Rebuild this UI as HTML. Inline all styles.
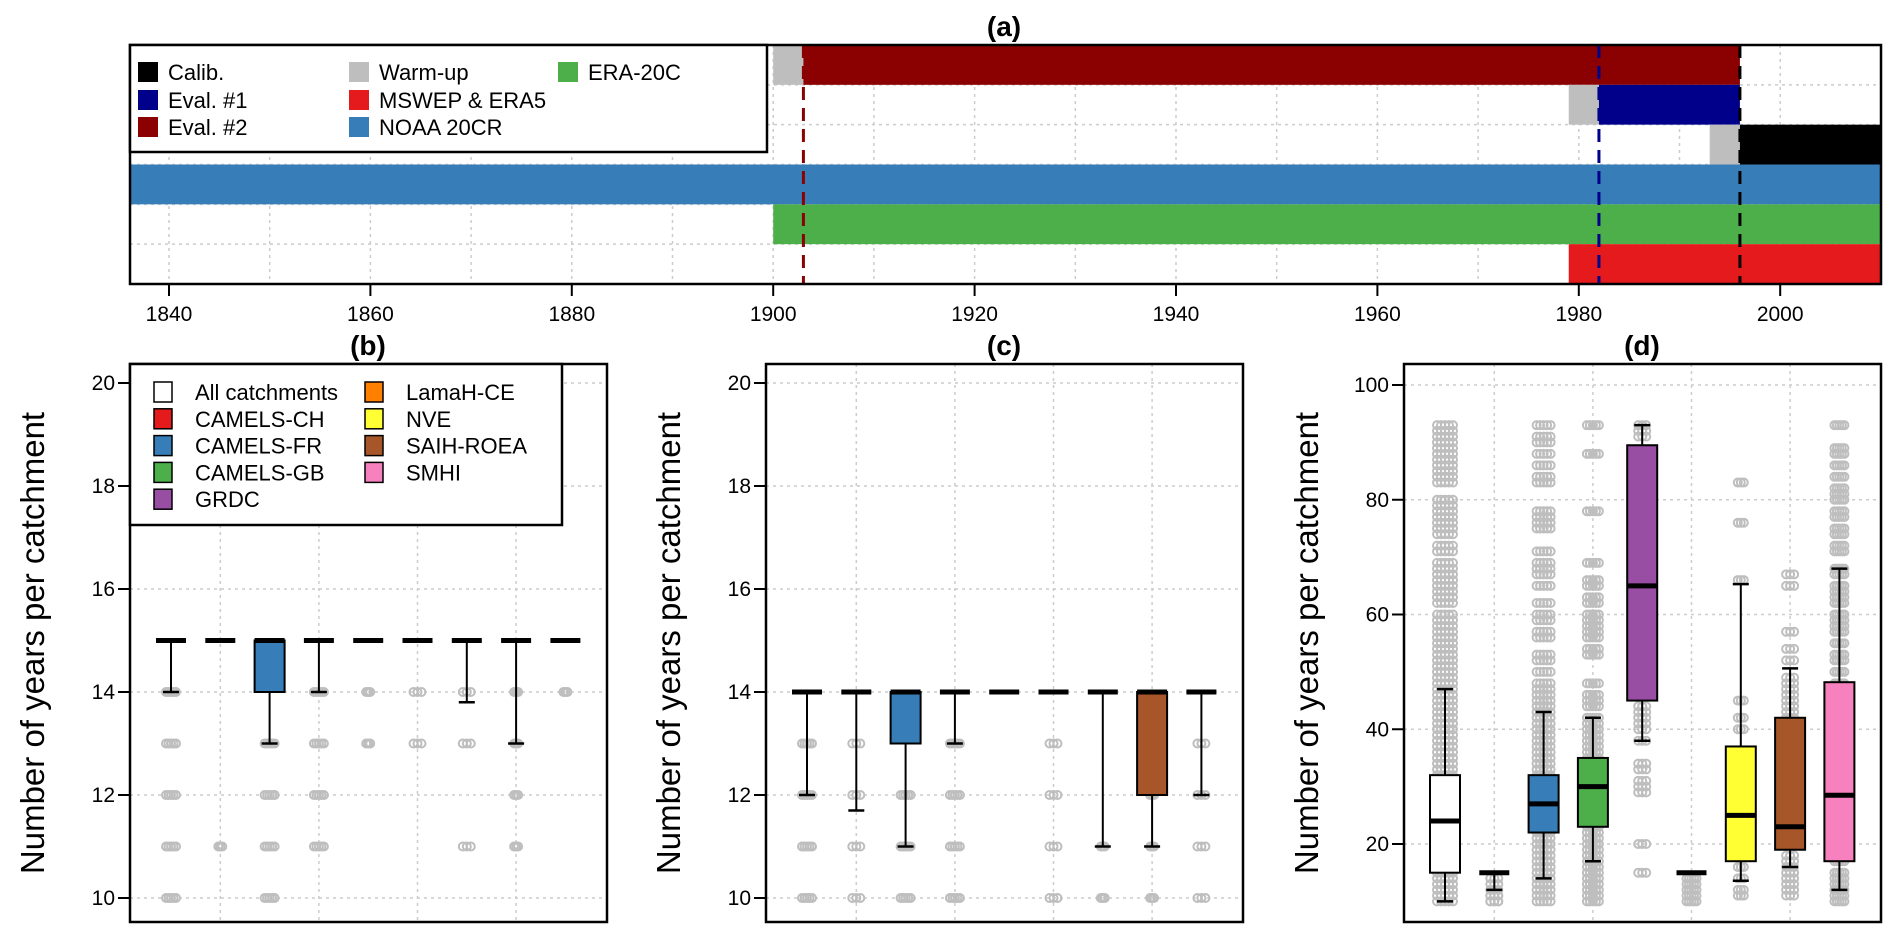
<!DOCTYPE html>
<html><head><meta charset="utf-8"><style>
html,body{margin:0;padding:0;background:#fff}
svg{display:block;font-family:"Liberation Sans",Arial,sans-serif}
</style></head><body>
<svg id="fig" width="1892" height="938" viewBox="0 0 1892 938" xmlns="http://www.w3.org/2000/svg"></svg>
<script>
// ---------- Panel (a) data ----------
const aRowsStart = [[1900,1903],[1979,1982],[1993,1996],[1836,1836],[1900,1900],[1979,1979]];
const aBarNames = ['eval2','eval1','calib','noaa-20cr','era-20c','mswep-era5'];
const aBarStart = [1903,1982,1996,1836,1900,1979];
const aBarEnd = [1996,1996,2010,2010,2010,2010];
const aWarmStart = [1900,1979,1993,null,null,null];
const aBarColors = ['#8B0000','#00008B','#000000','#377EB8','#4DAF4A','#E41A1C'];
const aVLines = [1903,1982,1996];
const aVLineColors = ['#8B0000','#00008B','#000000'];
const aTicks = [1840,1860,1880,1900,1920,1940,1960,1980,2000];
// ---------- Box panels ----------
const cats = ['All catchments','CAMELS-CH','CAMELS-FR','CAMELS-GB','GRDC','LamaH-CE','NVE','SAIH-ROEA','SMHI'];
const catColors = ['#FFFFFF','#E41A1C','#377EB8','#4DAF4A','#984EA3','#FF7F00','#FFFF33','#A65628','#F781BF'];
const bLo = [14,15,13,14,15,15,13.8,13,15];
const bQ1 = [15,15,14,15,15,15,15,15,15];
const bMed = [15,15,15,15,15,15,15,15,15];
const bQ3 = [15,15,15,15,15,15,15,15,15];
const bHi = [15,15,15,15,15,15,15,15,15];
const bPts = [[14,13,12,11,10],[11],[13,12,11,10],[14,13,12,11],[14,13],[14,13],[14,13,11],[14,13,12,11],[14]];
const cLo = [12,11.7,11,13,14,14,11,11,12];
const cQ1 = [14,14,13,14,14,14,14,12,14];
const cMed = [14,14,14,14,14,14,14,14,14];
const cQ3 = [14,14,14,14,14,14,14,14,14];
const cHi = [14,14,14,14,14,14,14,14,14];
const cPts = [[13,12,11,10],[13,12,11,10],[12,11,10],[13,12,11,10],[],[13,12,11,10],[11,10],[12,11,10],[13,12,11,10]];
const dLo = [10,12,14,17,38,15,13.6,16,12];
const dQ1 = [15,15,22,23,45,15,17,19,17];
const dMed = [24,15,27,30,65,15,25,23,28.5];
const dQ3 = [32,15,32,35,89.5,15,37,42,48.2];
const dHi = [47,15,43,42,93,15,65.3,50.6,68];
const dPts = [
 [10,11,12,13,14,15,16,17,18,19,20,21,22,23,24,25,26,27,28,29,30,31,32,33,34,35,36,37,38,39,40,41,42,43,44,45,46,47,48,49,50,51,52,53,54,55,56,57,58,59,60,62,63,64,65,66,67,68,69,71,72,74,75,76,77,78,79,80,83,84,85,86,87,88,89,90,91,92,93],
 [10,10,11,11,12,13,14],
 [10,11,12,13,14,15,16,17,18,19,20,21,22,23,24,25,26,27,28,29,30,31,32,33,34,35,36,37,38,39,40,41,42,43,44,45,46,47,48,50,52,53,56,57,59,60,62,65,67,68,69,71,75,76,77,78,83,84,86,88,90,91,93],
 [10,11,12,13,14,15,16,17,18,19,20,21,22,23,24,25,26,27,28,29,30,31,32,33,34,35,36,37,38,39,40,41,42,44,45,46,48,53,54,56,57,58,59,60,62,63,65,66,69,78,88,93],
 [15,20,29,30,31,33,34,38,40,41,42,43,44,91,92,93],
 [10,11,12,13,14],
 [11,12,14,16,40,42,45,66,76,83],
 [11,12,13,14,15,16,17,18,20,22,25,30,35,38,42,43,44,45,46,47,48,49,52,54,57,65,67],
 [10,11,12,13,14,15,17,20,25,30,35,40,45,48,50,52,53,55,57,58,59,60,62,63,64,65,67,68,71,72,74,75,77,78,80,81,82,84,86,88,89,93]
];
const bTicks = [10,12,14,16,18,20];
const dTicks = [20,40,60,80,100];

const NS='http://www.w3.org/2000/svg';
const svg=document.getElementById('fig');
function mk(tag,attrs,parent){const e=document.createElementNS(NS,tag);for(const k in attrs)e.setAttribute(k,attrs[k]);(parent||svg).appendChild(e);return e;}

// ===== Panel (a) =====
const aL=130,aR=1881,aT=45,aB=284;
const ax=y=>Math.max(aL,Math.min(aR,169+(y-1840)*10.07));
const rowH=(aB-aT)/6;
const ga=mk('g',{});


for(let y=1840;y<=2010;y+=10){const l=mk('line',{x1:ax(y),x2:ax(y),y1:aT,y2:aB,stroke:'#CCCCCC','stroke-width':1.5,'stroke-dasharray':'3,4'},ga);}
for(let r=1;r<6;r++){const l=mk('line',{x1:aL,x2:aR,y1:aT+r*rowH,y2:aT+r*rowH,stroke:'#CCCCCC','stroke-width':1.5,'stroke-dasharray':'3,4'},ga);}
for(let i=0;i<6;i++){
  const y0=aT+i*rowH;
  if(aWarmStart[i]!==null){const w=mk('rect',{x:ax(aWarmStart[i]),y:y0,width:ax(aBarStart[i])-ax(aWarmStart[i]),height:rowH,fill:'#BEBEBE'},ga);}
  const b=mk('rect',{x:ax(aBarStart[i]),y:y0,width:ax(aBarEnd[i])-ax(aBarStart[i]),height:rowH,fill:aBarColors[i]},ga);
  
  
}
aVLines.forEach((v,i)=>{const l=mk('line',{x1:ax(v),x2:ax(v),y1:aT,y2:aB,stroke:aVLineColors[i],'stroke-width':3,'stroke-dasharray':'13,8'},ga);});
mk('rect',{x:aL,y:aT,width:aR-aL,height:aB-aT,fill:'none',stroke:'#000','stroke-width':2.5},ga);
aTicks.forEach(t=>{mk('line',{x1:ax(t),x2:ax(t),y1:aB,y2:aB+12,stroke:'#000','stroke-width':2},ga);const tx=mk('text',{x:ax(t),y:aB+37,'font-size':21,'text-anchor':'middle'},ga);tx.textContent=t;});
const ta=mk('text',{x:1004,y:36,'font-size':28,'font-weight':'bold','text-anchor':'middle'});ta.textContent='(a)';

// legend a
const la=mk('g',{});
mk('rect',{x:aL,y:aT,width:637,height:107,fill:'#fff',stroke:'#000','stroke-width':2.5},la);
const laItems=[['Calib.','#000000',138,72],['Eval. #1','#00008B',138,100],['Eval. #2','#8B0000',138,127],['Warm-up','#BEBEBE',349,72],['MSWEP & ERA5','#E41A1C',349,100],['NOAA 20CR','#377EB8',349,127],['ERA-20C','#4DAF4A',558,72]];
laItems.forEach(it=>{const g=mk('g',{},la);
 mk('rect',{x:it[2],y:it[3]-10,width:20,height:20,fill:it[1]},g);
 const t=mk('text',{x:it[2]+30,y:it[3]+8,'font-size':22},g);t.textContent=it[0];});

// ===== Box panels =====
function panel(name,title,L,lo,q1,med,q3,hi,pts,ticks,v0,y0,v1,y1,spread,showLegend){
  const R=L+477,T=364,B=922;
  const g=mk('g',{});
  const ys=v=>y0+(v-v0)*(y1-y0)/(v1-v0);
  const xs=i=>L+41+i*49.3;
  ticks.forEach(t=>{const l=mk('line',{x1:L,x2:R,y1:ys(t),y2:ys(t),stroke:'#CCCCCC','stroke-width':1.5,'stroke-dasharray':'3,4'},g);});
  [1,3,5,7].forEach(i=>{const l=mk('line',{x1:xs(i),x2:xs(i),y1:T,y2:B,stroke:'#CCCCCC','stroke-width':1.5,'stroke-dasharray':'3,4'},g);});
  pts.forEach((arr,i)=>{arr.forEach((v,k)=>{
    const offs=[0,-0.5,0.5,-0.25,0.25];
    const n=spread[i]>8?5:(spread[i]>3?3:1);
    for(let j=0;j<n;j++){const c=mk('circle',{cx:xs(i)+offs[j]*spread[i],cy:ys(v),r:4,fill:'none',stroke:'#BEBEBE','stroke-width':2},g);
      }
  });});
  for(let i=0;i<9;i++){
    const x=xs(i),bx=g;
    const bg=mk('g',{},bx);
    mk('line',{x1:x,x2:x,y1:ys(hi[i]),y2:ys(q3[i]),stroke:'#000','stroke-width':2},bg);
    mk('line',{x1:x,x2:x,y1:ys(q1[i]),y2:ys(lo[i]),stroke:'#000','stroke-width':2},bg);
    mk('line',{x1:x-8,x2:x+8,y1:ys(hi[i]),y2:ys(hi[i]),stroke:'#000','stroke-width':2.5},bg);
    mk('line',{x1:x-8,x2:x+8,y1:ys(lo[i]),y2:ys(lo[i]),stroke:'#000','stroke-width':2.5},bg);
    mk('rect',{x:x-15,y:ys(q3[i]),width:30,height:Math.max(0,ys(q1[i])-ys(q3[i])),fill:catColors[i],stroke:'#000','stroke-width':2},bg);
    mk('line',{x1:x-15,x2:x+15,y1:ys(med[i]),y2:ys(med[i]),stroke:'#000','stroke-width':5},bg);
  }
  mk('rect',{x:L,y:T,width:R-L,height:B-T,fill:'none',stroke:'#000','stroke-width':2.5},g);
  ticks.forEach(t=>{mk('line',{x1:L-12,x2:L,y1:ys(t),y2:ys(t),stroke:'#000','stroke-width':2},g);const tx=mk('text',{x:L-15,y:ys(t)+7,'font-size':21,'text-anchor':'end'},g);tx.textContent=t;});
  const tt=mk('text',{x:L+238,y:355,'font-size':28,'font-weight':'bold','text-anchor':'middle'},g);tt.textContent=title;
  
  const yl=mk('text',{x:0,y:0,'font-size':33,'text-anchor':'middle',transform:'translate('+(L-86)+',643) rotate(-90)'},g);yl.textContent='Number of years per catchment';
  
  if(showLegend){
    const lg=mk('g',{},g);
    mk('rect',{x:L,y:T,width:432,height:161,fill:'#fff',stroke:'#000','stroke-width':2.5},lg);
    cats.forEach((c,i)=>{const col=i<5?0:1,row=i<5?i:i-5;
      const eg=mk('g',{},lg);
      const sx=col?365:154,yy=392+row*26.8;
      mk('rect',{x:sx,y:yy-10,width:18,height:20,fill:catColors[i],stroke:'#000','stroke-width':1.5},eg);
      const t=mk('text',{x:sx+41,y:yy+8,'font-size':22},eg);t.textContent=c;});
  }
}
panel('b','(b)',130,bLo,bQ1,bMed,bQ3,bHi,bPts,bTicks,20,383,10,898,[10,4,10,10,4,8,8,4,4],true);
panel('c','(c)',766,cLo,cQ1,cMed,cQ3,cHi,cPts,bTicks,20,383,10,898,[10,8,10,10,4,8,4,4,8],false);
panel('d','(d)',1404,dLo,dQ1,dMed,dQ3,dHi,dPts,dTicks,100,385,20,844,[16,8,14,12,8,10,6,8,10],false);
</script>
</body></html>
